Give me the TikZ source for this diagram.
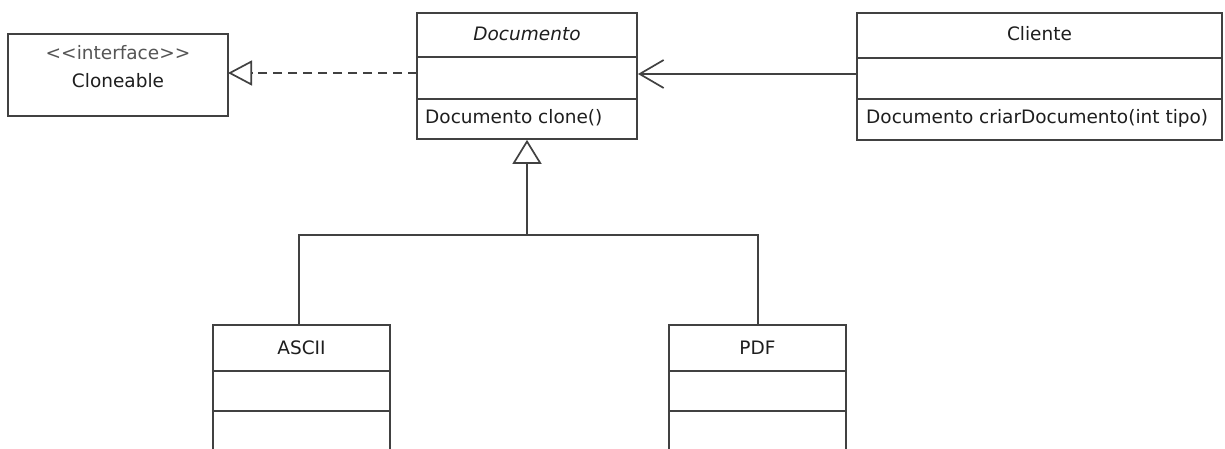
\documentclass[tikz,border=0pt]{standalone}
\usepackage{fontspec}
\setmainfont{DejaVu Sans}
\usetikzlibrary{arrows.meta}
\definecolor{ln}{RGB}{65,65,65}
\definecolor{tx}{RGB}{30,30,30}
\definecolor{st}{RGB}{85,85,85}
\tikzset{
  umlbox/.style={draw=ln, line width=1.7pt, fill=white, rectangle, inner sep=0pt},
  divider/.style={draw=ln, line width=1.7pt},
  conn/.style={draw=ln, line width=1.7pt},
  lbl/.style={text=tx, font=\fontsize{18.5}{21}\selectfont, inner sep=0pt},
}
\begin{document}
\begin{tikzpicture}[x=1pt,y=-1pt]
\useasboundingbox (0,0) rectangle (1225,449);
\clip (0,0) rectangle (1225,449);
% class boxes
\node[umlbox, minimum width=220pt, minimum height=82pt] (clo) at (118,75) {};
\node[umlbox, minimum width=220pt, minimum height=126pt] (doc) at (527,76) {};
\node[umlbox, minimum width=365pt, minimum height=127pt] (cli) at (1039.5,76.5) {};
\node[umlbox, minimum width=177pt, minimum height=160pt] (asc) at (301.5,405) {};
\node[umlbox, minimum width=177pt, minimum height=160pt] (pdf) at (757.5,405) {};
% dividers
\draw[divider] (417,57) -- (637,57);
\draw[divider] (417,99) -- (637,99);
\draw[divider] (857,58) -- (1222,58);
\draw[divider] (857,99) -- (1222,99);
\draw[divider] (213,371) -- (390,371);
\draw[divider] (213,411) -- (390,411);
\draw[divider] (669,371) -- (846,371);
\draw[divider] (669,411) -- (846,411);
% texts
\node[lbl, text=st] (t1) at (118,53) {<\kern0pt<interface>\kern0pt>};
\node[lbl] (t2) at (118,81) {Cloneable};
\node[lbl, font=\fontsize{18.5}{21}\selectfont\itshape] (t3) at (527,34) {Documento};
\node[lbl, anchor=west] (t4) at (425,118) {Documento clone()};
\node[lbl] (t5) at (1039.5,34) {Cliente};
\node[lbl, anchor=west] (t6) at (866,118) {Documento criarDocumento(int tipo)};
\node[lbl] (t7) at (301.5,348) {ASCII};
\node[lbl] (t8) at (757.5,348) {PDF};
% connectors
\coordinate (ra) at (417,73);
\coordinate (rb) at (228,73);
\draw[conn, dash pattern=on 9pt off 6pt, -{Triangle[open, length=24pt, width=25pt, line width=1.7pt]}] (ra) -- (rb);
\coordinate (aa) at (857,74);
\coordinate (ab) at (638,74);
\draw[conn, -{Straight Barb[length=24pt, width=28pt, line width=1.7pt]}] (aa) -- (ab);
\coordinate (j) at (527,235);
\draw[conn] ([xshift=-2.5pt]asc.north) |- (j) -| ([xshift=0.5pt]pdf.north);
\draw[conn, -{Triangle[open, length=24pt, width=29pt, line width=1.7pt]}] (j) -- (doc.south);
\end{tikzpicture}
\end{document}
